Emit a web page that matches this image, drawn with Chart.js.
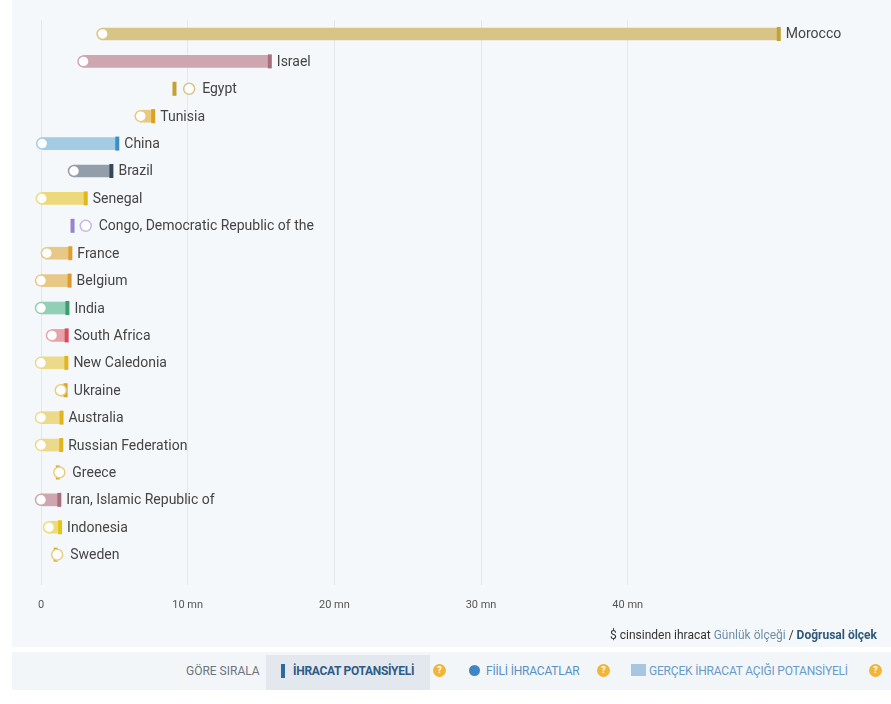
<!DOCTYPE html>
<html>
<head>
<meta charset="utf-8">
<script src="https://cdn.jsdelivr.net/npm/chart.js@4.4.1/dist/chart.umd.min.js"></script>
<style>
  body { margin: 0; width: 891px; height: 704px; background: #fff; font-family: Roboto, sans-serif; overflow: hidden; position: relative; }
  #panel { position: absolute; left: 12px; top: 0; width: 879px; height: 647px; background: #f5f8fb; }
  #wrap { position: absolute; left: 0; top: 0; width: 891px; height: 632px; }
  #scale { position: absolute; right: 14px; top: 628px; font-size: 12px; color: #333; }
  #scale .lnk { color: #6f8ca8; }
  #scale b { color: #2f5878; }
  #sortbar { position: absolute; left: 12px; top: 652px; width: 879px; height: 38px; background: #f3f6f9; font-size: 12px; }
  #sortbar span { position: absolute; top: 12px; white-space: nowrap; }
  .q { position: absolute; top: 12px; width: 13px; height: 13px; border-radius: 50%; background: #f2b632; color: #fff; font-size: 9px; font-weight: bold; text-align: center; line-height: 13px; }
</style>
</head>
<body>
<div id="panel"></div>
<div id="wrap"><canvas id="gapChart" width="891" height="632"></canvas></div>
<div id="scale">$ cinsinden ihracat <span class="lnk">Günlük ölçeği</span> / <b>Doğrusal ölçek</b></div>
<div id="sortbar">
  <span style="left:174px;color:#6b7480;">GÖRE SIRALA</span>
  <div style="position:absolute;left:254px;top:3px;width:164px;height:35px;background:#e3e8ee;"></div>
  <div style="position:absolute;left:269px;top:12px;width:4px;height:14px;background:#2f6a9c;"></div>
  <span style="left:281px;color:#2f5b85;font-weight:bold;letter-spacing:-0.3px;">İHRACAT POTANSİYELİ</span>
  <div class="q" style="left:421px;">?</div>
  <div style="position:absolute;left:457px;top:13px;width:11px;height:11px;border-radius:50%;background:#3f87c4;"></div>
  <span style="left:474px;color:#5a8fc0;letter-spacing:-0.2px;">FİİLİ İHRACATLAR</span>
  <div class="q" style="left:585px;">?</div>
  <div style="position:absolute;left:619px;top:12px;width:15px;height:12px;background:#a8c6e2;"></div>
  <span style="left:637px;color:#6a9ac6;letter-spacing:-0.2px;">GERÇEK İHRACAT AÇIĞI POTANSİYELİ</span>
  <div class="q" style="left:857px;">?</div>
</div>
<script>
var countries = [
    'Morocco', 'Israel', 'Egypt', 'Tunisia', 'China', 'Brazil', 'Senegal',
    'Congo, Democratic Republic of the', 'France', 'Belgium', 'India', 'South Africa',
    'New Caledonia', 'Ukraine', 'Australia', 'Russian Federation', 'Greece',
    'Iran, Islamic Republic of', 'Indonesia', 'Sweden'
]
// values in mn $
var potential = [50.3, 15.6, 9.1, 7.65, 5.2, 4.8, 3.05, 2.15, 2.0, 1.95, 1.8, 1.75, 1.73, 1.68, 1.4, 1.38, 1.15, 1.25, 1.3, 1.0]
var actual = [4.2, 2.9, 10.1, 6.8, 0.08, 2.25, 0.05, 3.05, 0.4, 0.0, 0.0, 0.75, 0.0, 1.35, 0.0, 0.0, 1.25, 0.0, 0.55, 1.1]
var xTicks = [0, 10, 20, 30, 40]

var barColors = ['#d8c486', '#cda6b0', '#d8c486', '#e8c97e', '#a3cbe4', '#929ea9', '#ecd97c',
    '#c3b8e6', '#e8c887', '#e8c887', '#93cfb6', '#e8a3aa', '#ecd98a', '#e9cd7e', '#ecd98a',
    '#ecd98a', '#e9cd7e', '#cda6b0', '#ecdd7c', '#e9cd7e']
var markerColors = ['#c4a133', '#a86f7c', '#c4a133', '#d9a21f', '#3c8ec8', '#34485c', '#e0b81e',
    '#9585cf', '#dfa033', '#df9a2d', '#3e9d6d', '#d84c5d', '#e0b520', '#dca728', '#e0b520',
    '#e0b520', '#dca728', '#a86f7c', '#e6c315', '#dca728']

var gapData = countries.map(function(c, i) {
    return { y: i, x: potential[i] > actual[i] ? [actual[i], potential[i]] : null }
})
var potData = countries.map(function(c, i) { return { x: potential[i], y: i } })
var actData = countries.map(function(c, i) { return { x: actual[i], y: i } })

// country names right of the mark furthest out
var nameLabels = {
    id: 'nameLabels',
    afterDatasetsDraw: function(chart) {
        var ctx = chart.ctx, xs = chart.scales.x, ys = chart.scales.y
        ctx.save()
        ctx.font = '14px Roboto'
        ctx.fillStyle = '#444'
        ctx.textBaseline = 'middle'
        countries.forEach(function(name, i) {
            var px = Math.max(xs.getPixelForValue(potential[i]) + 7, xs.getPixelForValue(actual[i]) + 13)
            ctx.fillText(name, px, ys.getPixelForValue(i) + 1)
        })
        ctx.restore()
    }
}

new Chart(document.getElementById('gapChart').getContext('2d'), {
    type: 'bar',
    data: {
        datasets: [{
            type: 'bar',
            indexAxis: 'y',
            data: gapData,
            backgroundColor: barColors,
            barThickness: 12,
            clip: false,
            order: 3
        }, {
            type: 'scatter',
            data: potData,
            pointStyle: 'line',
            rotation: 90,
            radius: 7,
            borderWidth: 4,
            borderColor: markerColors,
            clip: false,
            order: 2
        }, {
            type: 'scatter',
            data: actData,
            pointStyle: 'circle',
            radius: 5.5,
            borderWidth: 1.5,
            backgroundColor: '#fff',
            borderColor: barColors,
            clip: false,
            order: 1
        }]
    },
    options: {
        responsive: false,
        animation: false,
        layout: { padding: { left: 41, right: 0, top: 20, bottom: 6 } },
        plugins: { legend: { display: false }, tooltip: { enabled: false } },
        scales: {
            x: {
                type: 'linear',
                offset: false,
                min: 0,
                max: 57.2,
                afterBuildTicks: function(axis) {
                    axis.ticks = xTicks.map(function(v) { return { value: v } })
                },
                ticks: {
                    padding: 14,
                    color: '#555',
                    font: { family: 'Roboto', size: 11 },
                    callback: function(v) { return v === 0 ? '0' : v + ' mn' }
                },
                grid: { color: '#e3e8ed', tickLength: 0, offset: false },
                border: { display: false }
            },
            y: {
                type: 'linear',
                offset: false,
                reverse: true,
                min: -0.51,
                max: 20.1,
                display: false,
                grid: { offset: false }
            }
        }
    },
    plugins: [nameLabels]
})
</script>
</body>
</html>
